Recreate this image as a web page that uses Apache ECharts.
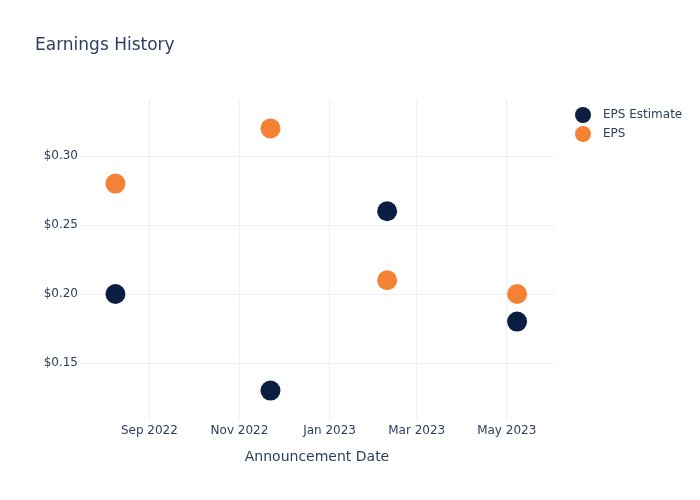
<!DOCTYPE html>
<html>
<head>
<meta charset="utf-8">
<script src="https://cdn.jsdelivr.net/npm/echarts@6/dist/echarts.min.js"></script>
<style>html,body{margin:0;padding:0;background:#fff}#c{width:700px;height:500px}</style>
</head>
<body>
<div id="c"></div>
<script>
// Data
const dates = ['2022-08-09', '2022-11-22', '2023-02-09', '2023-05-08'];
const epsEstimate = [0.20, 0.13, 0.26, 0.18];
const eps = [0.28, 0.32, 0.21, 0.20];
const xTickDates = ['2022-09-01', '2022-11-01', '2023-01-01', '2023-03-01', '2023-05-01'];
const yTicks = [0.15, 0.20, 0.25, 0.30];
const monthNames = ['Jan','Feb','Mar','Apr','May','Jun','Jul','Aug','Sep','Oct','Nov','Dec'];

const ts = d => { const p = d.split('-').map(Number); return Date.UTC(p[0], p[1]-1, p[2]); };
const xTicks = xTickDates.map(ts);
const font = '"DejaVu Sans", Verdana, sans-serif';
const txt = '#2a3f5f';
const gridCol = '#ebf0f8';

const chart = echarts.init(document.getElementById('c'), null, {renderer: 'canvas'});
chart.setOption({
  animation: false,
  backgroundColor: '#fff',
  textStyle: {fontFamily: font, color: txt},
  title: {
    text: 'Earnings History', left: 35, top: 37, padding: 0,
    textStyle: {fontFamily: font, fontSize: 17, fontWeight: 'normal', color: txt}
  },
  legend: {
    orient: 'vertical', left: 575, top: 107, itemGap: 3, padding: 0,
    icon: 'circle', itemWidth: 16, itemHeight: 16,
    textStyle: {fontFamily: font, fontSize: 12, color: txt, padding: [0,0,0,7]},
    data: ['EPS Estimate', 'EPS']
  },
  grid: {left: 80, right: 146, top: 100, bottom: 80, containLabel: false},
  xAxis: {
    type: 'value',
    min: ts('2022-07-16'), max: ts('2023-06-02'),
    name: 'Announcement Date', nameLocation: 'middle', nameGap: 30,
    nameTextStyle: {fontFamily: font, fontSize: 14, color: txt},
    axisLine: {show: false},
    axisTick: {show: false, customValues: xTicks},
    axisLabel: {
      customValues: xTicks, margin: 5, fontSize: 12, color: txt, fontFamily: font,
      formatter: v => { const d = new Date(v); return monthNames[d.getUTCMonth()] + ' ' + d.getUTCFullYear(); }
    },
    splitLine: {show: true, lineStyle: {color: gridCol, width: 1}}
  },
  yAxis: {
    type: 'value', min: 0.1087, max: 0.3406,
    axisLine: {show: false},
    axisTick: {show: false, customValues: yTicks},
    axisLabel: {
      customValues: yTicks, margin: 2, fontSize: 12, color: txt, fontFamily: font,
      formatter: v => '$' + v.toFixed(2)
    },
    splitLine: {show: true, lineStyle: {color: gridCol, width: 1}}
  },
  series: [
    {
      name: 'EPS Estimate', type: 'scatter', symbolSize: 20,
      itemStyle: {color: '#0b1e41', opacity: 1},
      data: dates.map((d, i) => [ts(d), epsEstimate[i]])
    },
    {
      name: 'EPS', type: 'scatter', symbolSize: 20,
      itemStyle: {color: '#f58234', opacity: 1},
      data: dates.map((d, i) => [ts(d), eps[i]])
    }
  ]
});
</script>
</body>
</html>
